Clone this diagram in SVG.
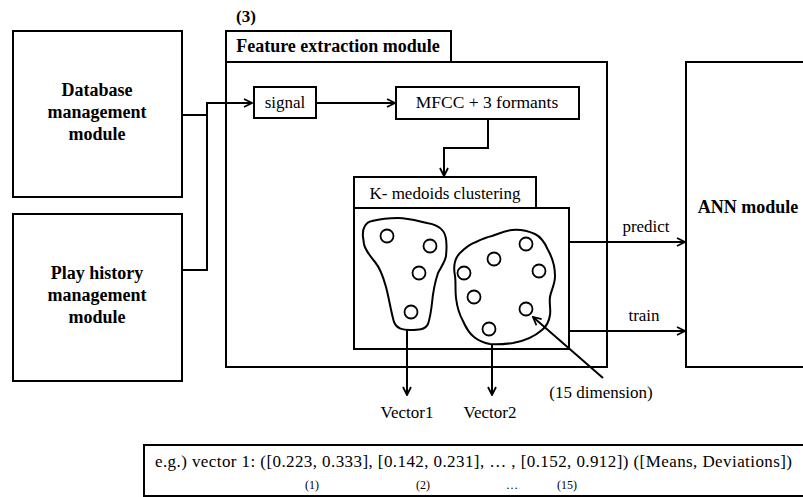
<svg xmlns="http://www.w3.org/2000/svg" width="803" height="497" viewBox="0 0 803 497">
<defs>
<marker id="arr" viewBox="0 0 10 10" refX="9" refY="5" markerWidth="10" markerHeight="10" markerUnits="userSpaceOnUse" orient="auto">
<path d="M1,1 L9,5 L1,9" fill="none" stroke="#000" stroke-width="1.8"/>
</marker>
</defs>
<style>
.box{fill:#fff;stroke:#000;stroke-width:2}
.ln{fill:none;stroke:#000;stroke-width:2}
.blob{fill:none;stroke:#000;stroke-width:2}
.dot{fill:#fff;stroke:#000;stroke-width:1.8}
.b{font-family:'Liberation Serif',serif;font-weight:bold;font-size:18px;text-anchor:middle}
.t{font-family:'Liberation Serif',serif;font-size:17px;text-anchor:middle}
.s{font-family:'Liberation Serif',serif;font-size:12px;text-anchor:middle}
</style>
<rect width="803" height="497" fill="#fff"/>

<g id="database">
<rect class="box" x="13" y="31" width="169" height="166"/>
<text class="b" x="97" y="96">Database</text>
<text class="b" x="97" y="118">management</text>
<text class="b" x="97" y="140">module</text>
</g>

<g id="playhistory">
<rect class="box" x="13" y="214" width="169" height="167"/>
<text class="b" x="97" y="279">Play history</text>
<text class="b" x="97" y="301">management</text>
<text class="b" x="97" y="323">module</text>
</g>

<g id="feature">
<text class="b" x="246" y="22" style="font-size:17px">(3)</text>
<rect class="box" x="226" y="62" width="381" height="305"/>
<rect class="box" x="226" y="31" width="225" height="31"/>
<text class="b" x="338" y="52" style="font-size:18px">Feature extraction module</text>
</g>

<g id="signal">
<rect class="box" x="254" y="87" width="62" height="31"/>
<text class="t" x="285" y="108">signal</text>
</g>

<g id="mfcc">
<rect class="box" x="396" y="87" width="183" height="32"/>
<text class="t" x="487" y="108" style="font-size:17.5px">MFCC + 3 formants</text>
</g>

<g id="kmedoids">
<rect class="box" x="354" y="177" width="182" height="31"/>
<text class="t" x="445" y="199">K- medoids clustering</text>
<rect class="box" x="354" y="208" width="215" height="141"/>
<path class="blob" d="M363,237 C362,228 366,222 372,221 C380,219 390,218 398,218 C408,218 418,221 427,223 C434,224 440,227 443,231 C447,236 447,246 446,256 C445,262 441,267 438,273 C435,282 433,292 432,303 C431,312 430,318 428,324 C425,330 418,330 410,330 C403,330 397,329 394,322 C391,312 389,298 386,287 C383,276 380,268 375,262 C370,256 365,250 364,244 Z"/>
<path class="blob" d="M455,276 C453,266 455,258 460,253 C465,248 470,244 476,242 C482,239 487,237 492,236 C498,234 504,231 512,230 C520,229 528,231 535,234 C541,237 545,243 548,250 C552,257 555,266 555,276 C555,285 551,290 550,297 C549,304 551,309 550,315 C549,322 547,326 542,330 C535,336 525,341 513,343 C505,344 498,345 490,344 C484,343 479,341 474,337 C469,333 466,328 463,321 C459,314 457,306 456,298 C455,290 456,283 455,276 Z"/>
<circle class="dot" cx="387" cy="236" r="6.5"/>
<circle class="dot" cx="430" cy="246" r="6.5"/>
<circle class="dot" cx="419" cy="273" r="6.5"/>
<circle class="dot" cx="411" cy="312" r="6.5"/>
<circle class="dot" cx="526" cy="244" r="6.5"/>
<circle class="dot" cx="494" cy="259" r="6.5"/>
<circle class="dot" cx="539" cy="271" r="6.5"/>
<circle class="dot" cx="464" cy="273" r="6.5"/>
<circle class="dot" cx="474" cy="297" r="6.5"/>
<circle class="dot" cx="526" cy="309" r="6.5"/>
<circle class="dot" cx="489" cy="329" r="6.5"/>
</g>

<g id="ann">
<rect class="box" x="686" y="62" width="130" height="305"/>
<text class="b" x="748" y="213">ANN module</text>
</g>

<g id="connectors">
<path class="ln" d="M182,115 H207 V103 H252" marker-end="url(#arr)"/>
<path class="ln" d="M182,270 H207 V103"/>
<path class="ln" d="M316,103 H395" marker-end="url(#arr)"/>
<path class="ln" d="M488,119 V148 H444 V176" marker-end="url(#arr)"/>
<path class="ln" d="M569,242 H685" marker-end="url(#arr)"/>
<path class="ln" d="M569,331 H685" marker-end="url(#arr)"/>
<path class="ln" d="M407,330 V395" marker-end="url(#arr)"/>
<path class="ln" d="M492,344 V395" marker-end="url(#arr)"/>
<path class="ln" d="M603,378 L533,317" marker-end="url(#arr)"/>
<text class="t" x="646" y="232">predict</text>
<text class="t" x="644" y="321">train</text>
</g>

<g id="labels">
<text class="t" x="407" y="418">Vector1</text>
<text class="t" x="490" y="418">Vector2</text>
<text class="t" x="601" y="398">(15 dimension)</text>
</g>

<g id="example">
<rect class="box" x="144" y="445" width="680" height="51"/>
<text class="t" x="155" y="467" style="text-anchor:start" textLength="637" lengthAdjust="spacing">e.g.) vector 1: ([0.223, 0.333], [0.142, 0.231], … , [0.152, 0.912])  ([Means, Deviations])</text>
<text class="s" x="312" y="489">(1)</text>
<text class="s" x="423" y="489">(2)</text>
<text class="s" x="512" y="489">…</text>
<text class="s" x="567" y="489">(15)</text>
</g>
</svg>
